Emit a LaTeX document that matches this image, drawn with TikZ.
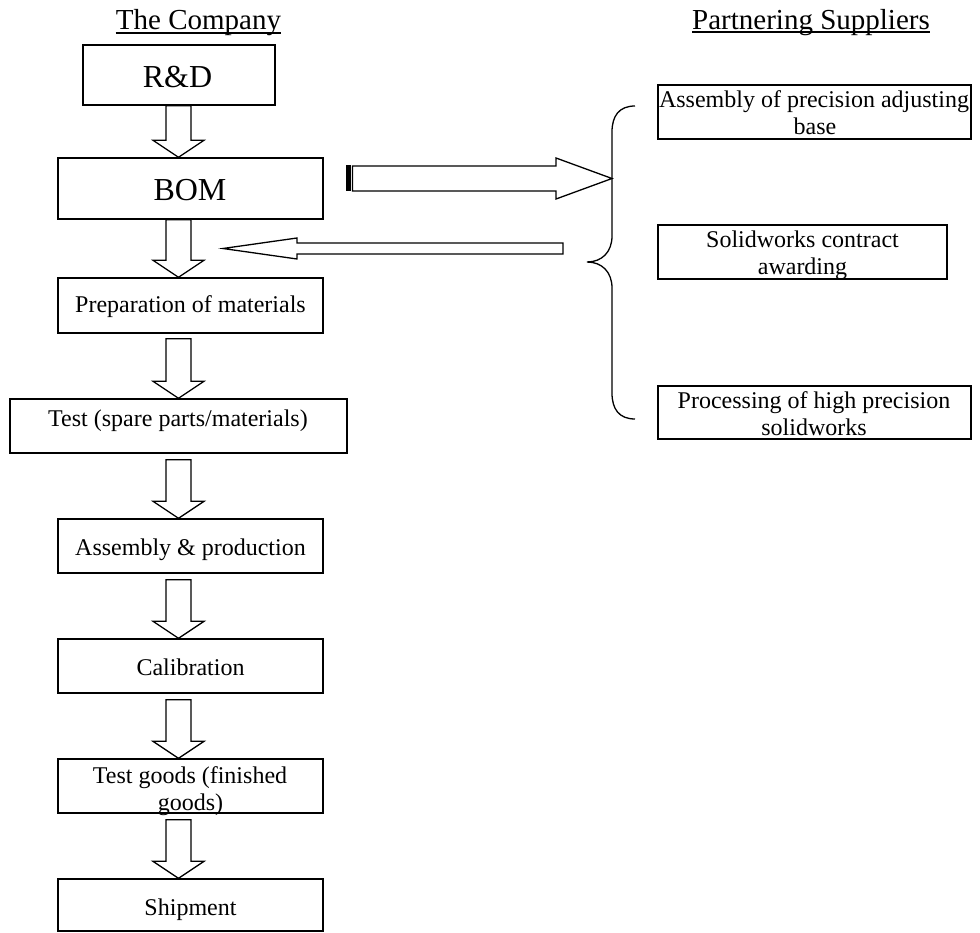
\documentclass[tikz,border=0pt]{standalone}
\usepackage{fontspec}
\setmainfont{Liberation Serif}
\usetikzlibrary{calc}
\newcommand\downarr[3][6pt]{%
  \draw[arr] let \p1=(#2.south), \p2=(#3.north) in
    (166pt,\y1-#1) -- (191pt,\y1-#1) -- (191pt,\y2+17pt) -- (204pt,\y2+17pt)
    -- (178.5pt,\y2) -- (153pt,\y2+17pt) -- (166pt,\y2+17pt) -- cycle;}
\begin{document}
\begin{tikzpicture}[x=1pt,y=-1pt,
  box/.style={draw, line width=1.4pt, rectangle, inner sep=0pt},
  arr/.style={draw, line width=1.3pt, fill=white, line join=miter},
  txt/.style={anchor=base, inner sep=0pt, font=\fontsize{24}{27}\selectfont},
  big/.style={anchor=base, inner sep=0pt, font=\fontsize{32}{36}\selectfont},
  head/.style={anchor=base, inner sep=0pt, font=\fontsize{29}{33}\selectfont}]
\useasboundingbox (0,0) rectangle (980,933);
\fill[white] (0,0) rectangle (980,933);

% headers
\node[head] (hc) at (198.5,30) {The Company};
\node[head] (hs) at (811,30) {Partnering Suppliers};
\draw[line width=1.2pt] ($(hc.base west)+(0,3)$) -- ($(hc.base east)+(0,3)$);
\draw[line width=1.2pt] ($(hs.base west)+(0,2)$) -- ($(hs.base east)+(0,2)$);

% company boxes
\node[box, minimum width=192pt, minimum height=60pt] (rd) at (179,75) {};
\node[box, minimum width=265pt, minimum height=61pt] (bom) at (190.5,188.5) {};
\node[box, minimum width=265pt, minimum height=55pt] (prep) at (190.5,305.5) {};
\node[box, minimum width=337pt, minimum height=54pt] (test) at (178.5,426) {};
\node[box, minimum width=265pt, minimum height=54pt] (asm) at (190.5,546) {};
\node[box, minimum width=265pt, minimum height=54pt] (cal) at (190.5,666) {};
\node[box, minimum width=265pt, minimum height=54pt] (tg) at (190.5,786) {};
\node[box, minimum width=265pt, minimum height=52pt] (ship) at (190.5,905) {};

\node[big] at (177.5,87.3) {R\&D};
\node[big] at (190,201) {BOM};
\node[txt] at (190.5,313) {Preparation of materials};
\node[txt] at (178,426) {Test (spare parts/materials)};
\node[txt] at (190.5,555) {Assembly \& production};
\node[txt] at (190.5,675) {Calibration};
\node[txt] at (190,783) {Test goods (finished};
\node[txt] at (190.5,810) {goods)};
\node[txt] at (190.5,915) {Shipment};

% supplier boxes
\node[box, minimum width=313pt, minimum height=54pt] (s1) at (814.5,112) {};
\node[box, minimum width=289pt, minimum height=54pt] (s2) at (802.5,252) {};
\node[box, minimum width=313pt, minimum height=53pt] (s3) at (814.5,412.5) {};
\node[txt] at (814,108) {Assembly of precision adjusting};
\node[txt] at (815,135) {base};
\node[txt] at (802.5,248) {Solidworks contract};
\node[txt] at (802.5,275) {awarding};
\node[txt] at (814,408) {Processing of high precision};
\node[txt] at (814,435) {solidworks};

% down arrows
\downarr[0pt]{rd}{bom}
\downarr[0pt]{bom}{prep}
\downarr[5pt]{prep}{test}
\downarr{test}{asm}
\downarr{asm}{cal}
\downarr{cal}{tg}
\downarr{tg}{ship}

% brace
\coordinate (bracetip) at (612,178.5);
\coordinate (bracemid) at (587,262);
\draw[line width=1.3pt] (635,106) .. controls (619,106) and (612,116) .. (612,132)
  -- (612,236) .. controls (612,252) and (602,262) .. (bracemid)
  .. controls (602,262) and (612,272) .. (612,288)
  -- (612,393) .. controls (612,409) and (619,419) .. (635,419);

% right arrow from BOM to brace
\coordinate (ra) at (352.5,166);
\fill (346,165.5) rectangle (351,191.5);
\draw[arr] (ra) -- (556,166) -- (556,158) -- (bracetip) -- (556,199) -- (556,191) -- (352.5,191) -- cycle;

% left arrow back to the flow
\coordinate (la) at (223,248.5);
\draw[arr] (563,243) -- (297,243) -- (297,238) -- (la) -- (297,259) -- (297,254) -- (563,254) -- cycle;
\end{tikzpicture}
\end{document}
